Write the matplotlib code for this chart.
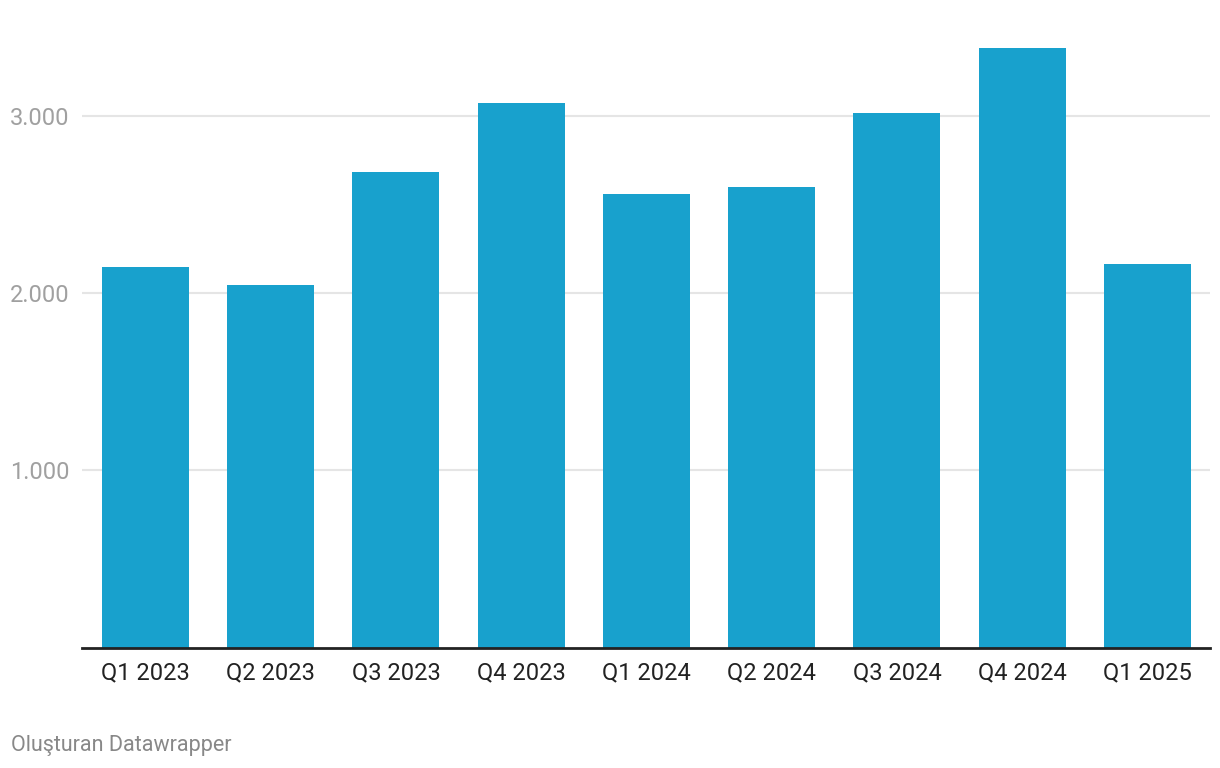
import matplotlib
matplotlib.use("Agg")
import matplotlib.pyplot as plt
from matplotlib.ticker import FuncFormatter

# quarterly values
quarters = ["Q1 2023", "Q2 2023", "Q3 2023", "Q4 2023",
            "Q1 2024", "Q2 2024", "Q3 2024", "Q4 2024", "Q1 2025"]
values = [2150, 2048, 2686, 3076, 2562, 2602, 3020, 3387, 2167]
y_ticks = [1000, 2000, 3000]

plt.rcParams["font.family"] = ["Roboto", "DejaVu Sans"]

fig = plt.figure(figsize=(12.2, 7.68), dpi=100)
# axes box in pixel terms: left 82, right 1210, bottom 647.5, top 10
ax = fig.add_axes([82 / 1220, 1 - 647.5 / 768, (1210 - 82) / 1220, (647.5 - 10) / 768])

x = range(len(quarters))
ax.bar(x, values, width=0.695, color="#18a1cd", zorder=3)

ax.set_xlim(-0.507, 8.5)
ax.set_ylim(0, 3600)

ax.set_yticks(y_ticks)
ax.yaxis.set_major_formatter(FuncFormatter(lambda v, p: f"{int(v):,}".replace(",", ".")))
ax.grid(axis="y", color="#e5e5e5", linewidth=1.5, zorder=0)
ax.tick_params(axis="y", length=0, pad=9, labelsize=17, labelcolor="#a0a0a0")

ax.set_xticks(list(x))
ax.set_xticklabels(quarters)
ax.tick_params(axis="x", length=0, pad=10, labelsize=17, labelcolor="#222222")

for s in ["top", "right", "left"]:
    ax.spines[s].set_visible(False)
ax.spines["bottom"].set_color("#222222")
ax.spines["bottom"].set_linewidth(2)
ax.spines["bottom"].set_zorder(4)

fig.text(11 / 1220, 1 - 745 / 768, "Oluşturan Datawrapper", fontsize=15.5,
         color="#888888", ha="left", va="center")

fig.savefig("out.png", dpi=100)
